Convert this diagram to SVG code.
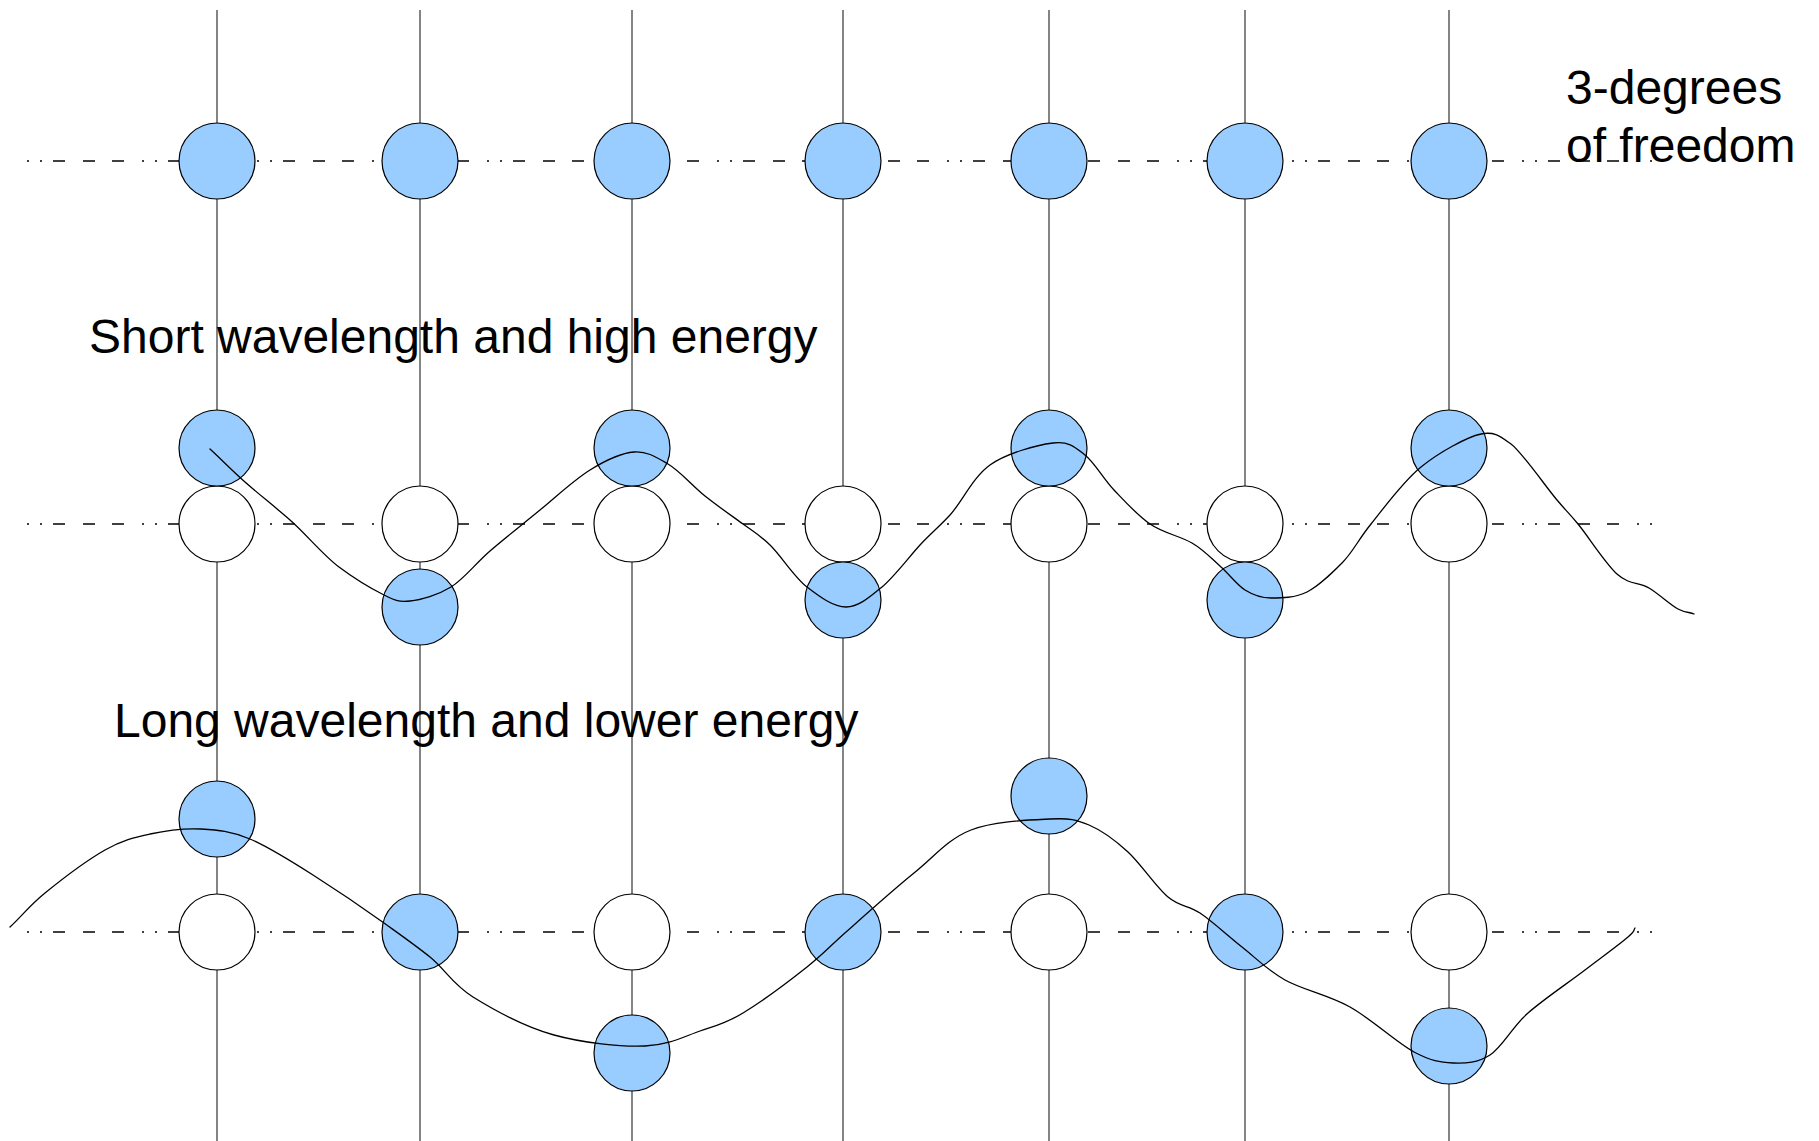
<svg xmlns="http://www.w3.org/2000/svg" width="1819" height="1141" viewBox="0 0 1819 1141">
<style>
.bg{fill:#ffffff}
.vline{stroke:#333333;stroke-width:1.2;fill:none}
.hline{stroke:#404040;stroke-width:1.8;fill:none;stroke-dasharray:2 11 2 11 12 18 12 17 12 18}
.blue{fill:#99ccff;stroke:#000000;stroke-width:1.2}
.white{fill:#ffffff;stroke:#000000;stroke-width:1.2}
.wave{fill:none;stroke:#000000;stroke-width:1.3;stroke-linejoin:round;stroke-linecap:round}
.lbl{font-family:"Liberation Sans",Arial,sans-serif;fill:#000000;font-size:48px}
</style>
<rect class="bg" x="0" y="0" width="1819" height="1141"/>
<g id="grid">
<line class="vline" x1="217" y1="10" x2="217" y2="1141"/>
<line class="vline" x1="420" y1="10" x2="420" y2="1141"/>
<line class="vline" x1="632" y1="10" x2="632" y2="1141"/>
<line class="vline" x1="843" y1="10" x2="843" y2="1141"/>
<line class="vline" x1="1049" y1="10" x2="1049" y2="1141"/>
<line class="vline" x1="1245" y1="10" x2="1245" y2="1141"/>
<line class="vline" x1="1449" y1="10" x2="1449" y2="1141"/>
<line class="hline" x1="27" y1="161" x2="1656" y2="161"/>
<line class="hline" x1="27" y1="524" x2="1655" y2="524"/>
<line class="hline" x1="27" y1="932" x2="1655" y2="932"/>
</g>
<g id="row1">
<circle id="r1c1" class="blue" cx="217" cy="161" r="38"/>
<circle id="r1c2" class="blue" cx="420" cy="161" r="38"/>
<circle id="r1c3" class="blue" cx="632" cy="161" r="38"/>
<circle id="r1c4" class="blue" cx="843" cy="161" r="38"/>
<circle id="r1c5" class="blue" cx="1049" cy="161" r="38"/>
<circle id="r1c6" class="blue" cx="1245" cy="161" r="38"/>
<circle id="r1c7" class="blue" cx="1449" cy="161" r="38"/>
</g>
<g id="row2">
<circle id="r2w1" class="white" cx="217" cy="524" r="38"/>
<circle id="r2w2" class="white" cx="420" cy="524" r="38"/>
<circle id="r2w3" class="white" cx="632" cy="524" r="38"/>
<circle id="r2w4" class="white" cx="843" cy="524" r="38"/>
<circle id="r2w5" class="white" cx="1049" cy="524" r="38"/>
<circle id="r2w6" class="white" cx="1245" cy="524" r="38"/>
<circle id="r2w7" class="white" cx="1449" cy="524" r="38"/>
<circle id="r2b1" class="blue" cx="217" cy="448" r="38"/>
<circle id="r2b2" class="blue" cx="420" cy="607" r="38"/>
<circle id="r2b3" class="blue" cx="632" cy="448" r="38"/>
<circle id="r2b4" class="blue" cx="843" cy="600" r="38"/>
<circle id="r2b5" class="blue" cx="1049" cy="448" r="38"/>
<circle id="r2b6" class="blue" cx="1245" cy="600" r="38"/>
<circle id="r2b7" class="blue" cx="1449" cy="448" r="38"/>
</g>
<g id="row3">
<circle id="r3w1" class="white" cx="217" cy="932" r="38"/>
<circle id="r3b1" class="blue" cx="217" cy="819" r="38"/>
<circle id="r3b2" class="blue" cx="420" cy="932" r="38"/>
<circle id="r3w3" class="white" cx="632" cy="932" r="38"/>
<circle id="r3b3" class="blue" cx="632" cy="1053" r="38"/>
<circle id="r3b4" class="blue" cx="843" cy="932" r="38"/>
<circle id="r3w5" class="white" cx="1049" cy="932" r="38"/>
<circle id="r3b5" class="blue" cx="1049" cy="796" r="38"/>
<circle id="r3b6" class="blue" cx="1245" cy="932" r="38"/>
<circle id="r3w7" class="white" cx="1449" cy="932" r="38"/>
<circle id="r3b7" class="blue" cx="1449" cy="1046" r="38"/>
</g>
<g id="connectors">
<path id="wave-short" class="wave" d="M210,449 C222,460 231.7,470.2 245,482 S274,506 290,520 S323,555 339,567 S372,589 384,595 S399,602 410,601 S438,595 451,587 S475,564 490,551 S523,524 540,510 S574,480 590,470 S621,453 634,452 S656,457 668,464 S692.5,486 705,496 S732,516 743,524 S759,534.5 770,545 S794,577 807,587 S833.5,607 846,607 S870,597 882,587 S909,557 920,545 S938,528 950,515 S973,477 990,465 S1037,445 1053,443 S1075,447 1085,455 S1103,478.5 1114,490 S1137,515 1150,524 S1180,536 1192,543 S1212,559 1221,567 S1237,585 1245,590 S1261,598 1271,598 S1295,598 1307,592 S1331,574 1342,563 S1358,540 1371,524 S1402.5,482 1421,467 S1467,437 1481,434 S1501,437 1511,444 S1546,487 1557,500 S1568,512 1578,524 S1605,563 1617,574 S1639,582 1649,588 S1670.5,605 1678,609 S1690,612 1694,614"/>
<path id="wave-long" class="wave" d="M10,927 C22,916 29,906 45,893 S87.5,860 105,850 S134,837.5 150,834 S184,828 201,829 S231,831 250,839 S291,861 313,875 S364.5,909 384,923 S415,945 430,957 S452,984 473,997 S525,1027 554,1035 S621,1047 645,1046 S684,1036.5 700,1031 S725,1024 743,1013 S790,980.5 807,967 S828,948 846,932 S893,890 914,873 S948,839 971,830 S1030,820 1050,819 S1076,819.5 1089,825 S1115,840 1128,852 S1156,887 1168,897 S1188,905 1200,913 S1228,936 1242,947 S1267,970 1285,980 S1328.5,995 1350,1007 S1397,1043 1414,1052 S1440,1062.5 1453,1063 S1477.5,1063 1490,1055 S1512,1027 1528,1013 S1568,983 1585,970 S1620,944 1628,937 S1633,931 1635,928"/>
</g>
<g id="labels">
<text class="lbl" x="1566" y="104">3-degrees</text>
<text class="lbl" x="1566" y="162">of freedom</text>
<text class="lbl" x="89" y="353">Short wavelength and high energy</text>
<text class="lbl" x="114" y="737">Long wavelength and lower energy</text>
</g>
</svg>
